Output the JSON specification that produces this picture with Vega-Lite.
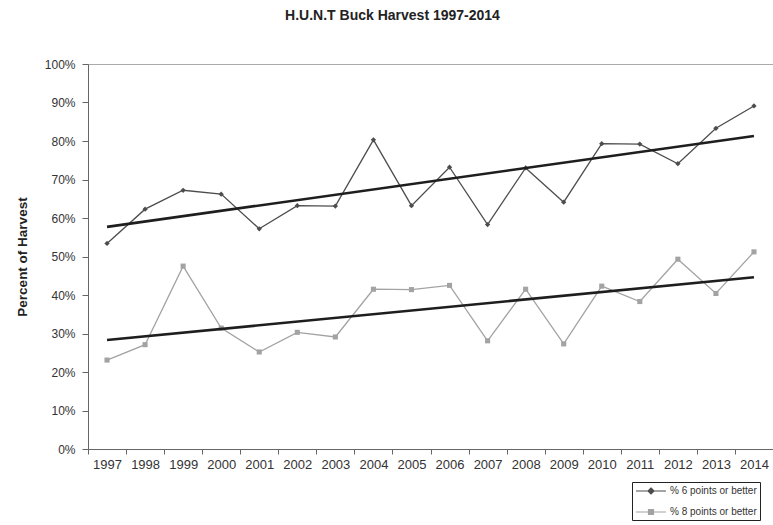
{
  "$schema": "https://vega.github.io/schema/vega-lite/v6.json",
  "width": 685,
  "height": 385,
  "autosize": {"type": "none"},
  "padding": {"left": 88, "top": 64, "right": 0, "bottom": 76},
  "background": "white",
  "config": {
    "font": "Liberation Sans",
    "view": {"stroke": "#aaa", "strokeWidth": 1}
  },
  "title": {
    "text": "H.U.N.T Buck Harvest 1997-2014",
    "fontSize": 14,
    "fontWeight": "bold",
    "color": "#222",
    "anchor": "middle",
    "offset": 35,
    "dx": -38
  },
  "datasets": {
    "series": [
      {"year": "1997", "series": "% 6 points or better", "value": 53.4},
      {"year": "1998", "series": "% 6 points or better", "value": 62.3},
      {"year": "1999", "series": "% 6 points or better", "value": 67.2},
      {"year": "2000", "series": "% 6 points or better", "value": 66.2},
      {"year": "2001", "series": "% 6 points or better", "value": 57.2},
      {"year": "2002", "series": "% 6 points or better", "value": 63.2},
      {"year": "2003", "series": "% 6 points or better", "value": 63.1},
      {"year": "2004", "series": "% 6 points or better", "value": 80.3},
      {"year": "2005", "series": "% 6 points or better", "value": 63.2},
      {"year": "2006", "series": "% 6 points or better", "value": 73.2},
      {"year": "2007", "series": "% 6 points or better", "value": 58.3},
      {"year": "2008", "series": "% 6 points or better", "value": 73.0},
      {"year": "2009", "series": "% 6 points or better", "value": 64.1},
      {"year": "2010", "series": "% 6 points or better", "value": 79.3},
      {"year": "2011", "series": "% 6 points or better", "value": 79.2},
      {"year": "2012", "series": "% 6 points or better", "value": 74.1},
      {"year": "2013", "series": "% 6 points or better", "value": 83.3},
      {"year": "2014", "series": "% 6 points or better", "value": 89.1},
      {"year": "1997", "series": "% 8 points or better", "value": 23.1},
      {"year": "1998", "series": "% 8 points or better", "value": 27.1},
      {"year": "1999", "series": "% 8 points or better", "value": 47.5},
      {"year": "2000", "series": "% 8 points or better", "value": 31.4},
      {"year": "2001", "series": "% 8 points or better", "value": 25.2},
      {"year": "2002", "series": "% 8 points or better", "value": 30.3},
      {"year": "2003", "series": "% 8 points or better", "value": 29.1},
      {"year": "2004", "series": "% 8 points or better", "value": 41.5},
      {"year": "2005", "series": "% 8 points or better", "value": 41.4},
      {"year": "2006", "series": "% 8 points or better", "value": 42.5},
      {"year": "2007", "series": "% 8 points or better", "value": 28.1},
      {"year": "2008", "series": "% 8 points or better", "value": 41.5},
      {"year": "2009", "series": "% 8 points or better", "value": 27.3},
      {"year": "2010", "series": "% 8 points or better", "value": 42.3},
      {"year": "2011", "series": "% 8 points or better", "value": 38.3},
      {"year": "2012", "series": "% 8 points or better", "value": 49.3},
      {"year": "2013", "series": "% 8 points or better", "value": 40.4},
      {"year": "2014", "series": "% 8 points or better", "value": 51.2}
    ],
    "trend": [
      {"year": "1997", "series": "trend 6", "value": 57.7},
      {"year": "2014", "series": "trend 6", "value": 81.3},
      {"year": "1997", "series": "trend 8", "value": 28.3},
      {"year": "2014", "series": "trend 8", "value": 44.6}
    ]
  },
  "encoding": {
    "x": {
      "field": "year", "type": "ordinal", "bandPosition": 0.5,
      "scale": {"type": "band", "paddingInner": 0, "paddingOuter": 0},
      "axis": {
        "title": null, "labelAngle": 0, "tickBand": "extent",
        "domainColor": "#666", "tickColor": "#666", "tickSize": 5,
        "labelFontSize": 13, "labelColor": "#333", "labelPadding": 4
      }
    },
    "y": {
      "field": "value", "type": "quantitative",
      "scale": {"domain": [0, 100], "nice": false},
      "axis": {
        "values": [0, 10, 20, 30, 40, 50, 60, 70, 80, 90, 100],
        "labelExpr": "datum.value + '%'",
        "grid": false, "labelOverlap": false, "labelSeparation": 0,
        "domainColor": "#666", "tickColor": "#666", "tickSize": 6,
        "labelFontSize": 12, "labelColor": "#333", "labelPadding": 7,
        "title": "Percent of Harvest", "titleFontSize": 13.5,
        "titleFontWeight": "bold", "titleColor": "#222", "titlePadding": 15
      }
    }
  },
  "layer": [
    {
      "data": {"name": "series"},
      "mark": {"type": "line", "strokeWidth": 1.3},
      "encoding": {
        "color": {
          "field": "series", "type": "nominal",
          "scale": {"domain": ["% 6 points or better", "% 8 points or better"], "range": ["#4d4d4d", "#a3a3a3"]},
          "legend": {
            "title": null,
            "orient": "none",
            "legendX": 544,
            "legendY": 418,
            "strokeColor": "#222",
            "fillColor": "white",
            "padding": 3,
            "rowPadding": 9,
            "symbolType": "M-1,0H5M2,-0.6L2.6,0L2,0.6L1.4,0Z",
            "symbolSize": 100,
            "symbolStrokeWidth": 1.2,
            "labelFontSize": 10,
            "labelColor": "#333",
            "labelOffset": 23,
            "encode": {
              "symbols": {
                "update": {
                  "shape": {"signal": "datum.label === '% 6 points or better' ? 'M-1,0H5M2,-0.6L2.6,0L2,0.6L1.4,0Z' : 'M-1,0H5M1.5,-0.5H2.5V0.5H1.5Z'"},
                  "fill": {"scale": "color", "field": "value"},
                  "stroke": {"scale": "color", "field": "value"},
                  "strokeWidth": {"value": 1.2}
                }
              }
            }
          }
        }
      }
    },
    {
      "data": {"name": "series"},
      "transform": [{"filter": "datum.series === '% 6 points or better'"}],
      "mark": {"type": "point", "filled": true, "size": 28, "opacity": 1, "shape": "diamond"},
      "encoding": {
        "color": {"field": "series", "type": "nominal"}
      }
    },
    {
      "data": {"name": "series"},
      "transform": [{"filter": "datum.series === '% 8 points or better'"}],
      "mark": {"type": "point", "filled": true, "size": 26, "opacity": 1, "shape": "square"},
      "encoding": {
        "color": {"field": "series", "type": "nominal"}
      }
    },
    {
      "data": {"name": "trend"},
      "mark": {"type": "line", "strokeWidth": 2.6, "color": "#1e1e1e"},
      "encoding": {
        "detail": {"field": "series", "type": "nominal"}
      }
    }
  ]
}
